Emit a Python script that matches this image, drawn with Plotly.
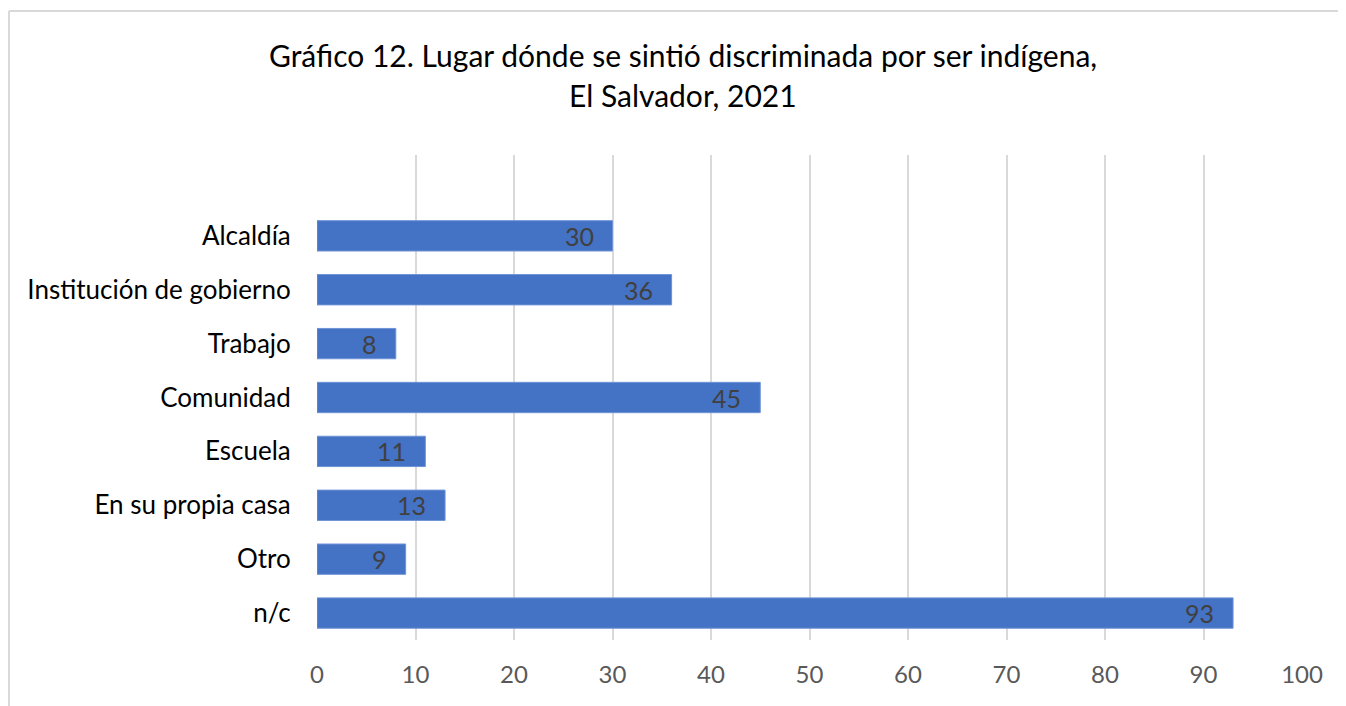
import plotly.graph_objects as go

categories = ["Alcaldía", "Institución de gobierno", "Trabajo", "Comunidad",
              "Escuela", "En su propia casa", "Otro", "n/c"]
values = [30, 36, 8, 45, 11, 13, 9, 93]
tick_vals = [0, 10, 20, 30, 40, 50, 60, 70, 80, 90, 100]
title_lines = ["Gráfico 12. Lugar dónde se sintió discriminada por ser indígena,",
               "El Salvador, 2021"]

OFF = 8  # browser default body margin
W, H = 1346 - OFF, 706 - OFF
ML, MR, MT, MB = 317 - OFF, 44, 155 - OFF, 66
FONT = "Lato"

cats_bottom_up = categories[::-1]
vals_bottom_up = values[::-1]

fig = go.Figure()
fig.add_trace(go.Bar(
    y=cats_bottom_up, x=vals_bottom_up, orientation="h",
    marker=dict(color="#4472C4", line=dict(color="#6E93D6", width=1)),
    width=0.563, hoverinfo="skip",
))

annotations = []
for c, v in zip(cats_bottom_up, vals_bottom_up):
    annotations.append(dict(x=v, y=c, xref="x", yref="y", text=str(v),
                            showarrow=False, xanchor="right", xshift=-17,
                            font=dict(family=FONT, size=25, color="#404040")))

pw = W - ML - MR
ph = H - MT - MB
def px_x(p):
    return (p - OFF - ML) / pw
def px_y(p):
    return (H - MB - (p - OFF)) / ph

annotations.append(dict(x=px_x(683), y=px_y(55), xref="paper", yref="paper",
                        text=title_lines[0], showarrow=False, xanchor="center", yanchor="middle",
                        font=dict(family=FONT, size=30, color="#000000")))
annotations.append(dict(x=px_x(683), y=px_y(95), xref="paper", yref="paper",
                        text=title_lines[1], showarrow=False, xanchor="center", yanchor="middle",
                        font=dict(family=FONT, size=30, color="#000000")))

shapes = [
    dict(type="line", xref="paper", yref="paper", x0=px_x(9), x1=px_x(1400),
         y0=px_y(11), y1=px_y(11), line=dict(color="#D9D9D9", width=2)),
    dict(type="line", xref="paper", yref="paper", x0=px_x(9), x1=px_x(9),
         y0=px_y(11), y1=px_y(760), line=dict(color="#D9D9D9", width=2)),
]

fig.update_layout(
    width=W, height=H,
    margin=dict(l=ML, r=MR, t=MT, b=MB, pad=0),
    paper_bgcolor="white", plot_bgcolor="white",
    showlegend=False,
    annotations=annotations, shapes=shapes,
    xaxis=dict(range=[0, 100], tickvals=tick_vals, showgrid=True,
               gridcolor="#D9D9D9", gridwidth=2, zeroline=False,
               showline=False, ticks="outside", ticklen=13, tickcolor="rgba(0,0,0,0)",
               tickfont=dict(family=FONT, size=24, color="#595959")),
    yaxis=dict(categoryorder="array", categoryarray=cats_bottom_up,
               range=[-0.5, 8.5], showgrid=False, zeroline=False,
               showline=False, ticks="outside", ticklen=20, tickcolor="rgba(0,0,0,0)",
               tickfont=dict(family=FONT, size=26, color="#000000")),
)

fig.write_html("out.html")
